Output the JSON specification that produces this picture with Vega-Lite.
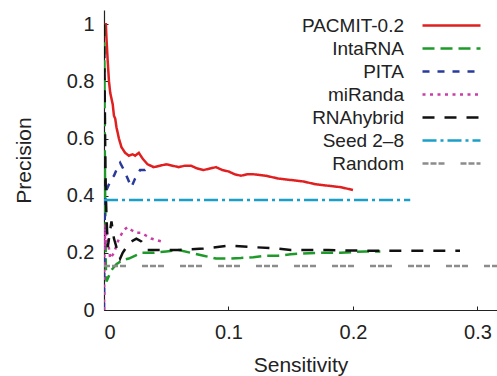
{
  "$schema": "https://vega.github.io/schema/vega-lite/v6.json",
  "autosize": {"type": "none"},
  "padding": {"left": 104, "top": 10, "right": 0, "bottom": 66},
  "width": 393,
  "height": 300,
  "background": "white",
  "config": {
    "view": {"stroke": null},
    "font": "Liberation Sans",
    "axis": {
      "grid": false,
      "domainColor": "#222",
      "domainWidth": 1.2,
      "tickColor": "#222",
      "tickSize": -4,
      "labelFont": "Liberation Sans",
      "labelFontSize": 20,
      "labelColor": "#222",
      "titleFont": "Liberation Sans",
      "titleFontSize": 21,
      "titleFontWeight": "normal",
      "titleColor": "#222"
    },
    "legend": {
      "orient": "none",
      "legendX": 299,
      "legendY": 6,
      "padding": 0,
      "rowPadding": 3,
      "labelFont": "Liberation Sans",
      "labelFontSize": 19,
      "labelColor": "#222",
      "labelAlign": "right",
      "labelOffset": -18,
      "labelLimit": 0,
      "symbolType": "M2,0H13.6",
      "symbolSize": 100,
      "symbolStrokeWidth": 2.5
    }
  },
  "data": {
    "values": [
      {"method": "PACMIT-0.2", "s": 0.0005, "p": 1.0},
      {"method": "PACMIT-0.2", "s": 0.0015, "p": 1.0},
      {"method": "PACMIT-0.2", "s": 0.002, "p": 0.95},
      {"method": "PACMIT-0.2", "s": 0.003, "p": 0.87},
      {"method": "PACMIT-0.2", "s": 0.004, "p": 0.80},
      {"method": "PACMIT-0.2", "s": 0.005, "p": 0.76},
      {"method": "PACMIT-0.2", "s": 0.006, "p": 0.74},
      {"method": "PACMIT-0.2", "s": 0.007, "p": 0.72},
      {"method": "PACMIT-0.2", "s": 0.008, "p": 0.68},
      {"method": "PACMIT-0.2", "s": 0.009, "p": 0.67},
      {"method": "PACMIT-0.2", "s": 0.010, "p": 0.64},
      {"method": "PACMIT-0.2", "s": 0.012, "p": 0.60},
      {"method": "PACMIT-0.2", "s": 0.014, "p": 0.57},
      {"method": "PACMIT-0.2", "s": 0.017, "p": 0.55},
      {"method": "PACMIT-0.2", "s": 0.020, "p": 0.54},
      {"method": "PACMIT-0.2", "s": 0.023, "p": 0.545},
      {"method": "PACMIT-0.2", "s": 0.025, "p": 0.54},
      {"method": "PACMIT-0.2", "s": 0.028, "p": 0.55},
      {"method": "PACMIT-0.2", "s": 0.031, "p": 0.53},
      {"method": "PACMIT-0.2", "s": 0.035, "p": 0.51},
      {"method": "PACMIT-0.2", "s": 0.040, "p": 0.50},
      {"method": "PACMIT-0.2", "s": 0.045, "p": 0.505},
      {"method": "PACMIT-0.2", "s": 0.050, "p": 0.51},
      {"method": "PACMIT-0.2", "s": 0.055, "p": 0.505},
      {"method": "PACMIT-0.2", "s": 0.060, "p": 0.50},
      {"method": "PACMIT-0.2", "s": 0.065, "p": 0.505},
      {"method": "PACMIT-0.2", "s": 0.070, "p": 0.505},
      {"method": "PACMIT-0.2", "s": 0.075, "p": 0.495},
      {"method": "PACMIT-0.2", "s": 0.080, "p": 0.49},
      {"method": "PACMIT-0.2", "s": 0.085, "p": 0.495},
      {"method": "PACMIT-0.2", "s": 0.090, "p": 0.50},
      {"method": "PACMIT-0.2", "s": 0.095, "p": 0.49},
      {"method": "PACMIT-0.2", "s": 0.100, "p": 0.485},
      {"method": "PACMIT-0.2", "s": 0.105, "p": 0.475},
      {"method": "PACMIT-0.2", "s": 0.110, "p": 0.47},
      {"method": "PACMIT-0.2", "s": 0.115, "p": 0.475},
      {"method": "PACMIT-0.2", "s": 0.120, "p": 0.475},
      {"method": "PACMIT-0.2", "s": 0.130, "p": 0.47},
      {"method": "PACMIT-0.2", "s": 0.140, "p": 0.46},
      {"method": "PACMIT-0.2", "s": 0.150, "p": 0.455},
      {"method": "PACMIT-0.2", "s": 0.160, "p": 0.45},
      {"method": "PACMIT-0.2", "s": 0.170, "p": 0.44},
      {"method": "PACMIT-0.2", "s": 0.180, "p": 0.435},
      {"method": "PACMIT-0.2", "s": 0.190, "p": 0.43},
      {"method": "PACMIT-0.2", "s": 0.200, "p": 0.42},

      {"method": "IntaRNA", "s": 0.0, "p": 1.0},
      {"method": "IntaRNA", "s": 0.0003, "p": 0.9},
      {"method": "IntaRNA", "s": 0.0006, "p": 0.6},
      {"method": "IntaRNA", "s": 0.001, "p": 0.35},
      {"method": "IntaRNA", "s": 0.0015, "p": 0.15},
      {"method": "IntaRNA", "s": 0.002, "p": 0.10},
      {"method": "IntaRNA", "s": 0.004, "p": 0.12},
      {"method": "IntaRNA", "s": 0.006, "p": 0.14},
      {"method": "IntaRNA", "s": 0.010, "p": 0.16},
      {"method": "IntaRNA", "s": 0.015, "p": 0.175},
      {"method": "IntaRNA", "s": 0.020, "p": 0.18},
      {"method": "IntaRNA", "s": 0.030, "p": 0.20},
      {"method": "IntaRNA", "s": 0.040, "p": 0.20},
      {"method": "IntaRNA", "s": 0.050, "p": 0.205},
      {"method": "IntaRNA", "s": 0.060, "p": 0.21},
      {"method": "IntaRNA", "s": 0.070, "p": 0.20},
      {"method": "IntaRNA", "s": 0.080, "p": 0.19},
      {"method": "IntaRNA", "s": 0.090, "p": 0.18},
      {"method": "IntaRNA", "s": 0.100, "p": 0.18},
      {"method": "IntaRNA", "s": 0.110, "p": 0.182},
      {"method": "IntaRNA", "s": 0.120, "p": 0.185},
      {"method": "IntaRNA", "s": 0.130, "p": 0.19},
      {"method": "IntaRNA", "s": 0.140, "p": 0.19},
      {"method": "IntaRNA", "s": 0.150, "p": 0.195},
      {"method": "IntaRNA", "s": 0.160, "p": 0.198},
      {"method": "IntaRNA", "s": 0.170, "p": 0.20},
      {"method": "IntaRNA", "s": 0.180, "p": 0.20},
      {"method": "IntaRNA", "s": 0.190, "p": 0.20},
      {"method": "IntaRNA", "s": 0.200, "p": 0.203},
      {"method": "IntaRNA", "s": 0.210, "p": 0.205},
      {"method": "IntaRNA", "s": 0.222, "p": 0.205},

      {"method": "PITA", "s": 0.0, "p": 0.0},
      {"method": "PITA", "s": 0.0005, "p": 0.3},
      {"method": "PITA", "s": 0.001, "p": 0.38},
      {"method": "PITA", "s": 0.002, "p": 0.42},
      {"method": "PITA", "s": 0.004, "p": 0.44},
      {"method": "PITA", "s": 0.006, "p": 0.46},
      {"method": "PITA", "s": 0.008, "p": 0.47},
      {"method": "PITA", "s": 0.010, "p": 0.49},
      {"method": "PITA", "s": 0.013, "p": 0.515},
      {"method": "PITA", "s": 0.016, "p": 0.49},
      {"method": "PITA", "s": 0.019, "p": 0.46},
      {"method": "PITA", "s": 0.022, "p": 0.43},
      {"method": "PITA", "s": 0.025, "p": 0.46},
      {"method": "PITA", "s": 0.029, "p": 0.49},
      {"method": "PITA", "s": 0.033, "p": 0.49},
      {"method": "PITA", "s": 0.036, "p": 0.50},
      {"method": "PITA", "s": 0.039, "p": 0.50},

      {"method": "miRanda", "s": 0.0, "p": 0.0},
      {"method": "miRanda", "s": 0.0005, "p": 0.3},
      {"method": "miRanda", "s": 0.001, "p": 0.22},
      {"method": "miRanda", "s": 0.002, "p": 0.28},
      {"method": "miRanda", "s": 0.003, "p": 0.25},
      {"method": "miRanda", "s": 0.005, "p": 0.18},
      {"method": "miRanda", "s": 0.008, "p": 0.20},
      {"method": "miRanda", "s": 0.012, "p": 0.25},
      {"method": "miRanda", "s": 0.016, "p": 0.28},
      {"method": "miRanda", "s": 0.019, "p": 0.29},
      {"method": "miRanda", "s": 0.022, "p": 0.28},
      {"method": "miRanda", "s": 0.026, "p": 0.27},
      {"method": "miRanda", "s": 0.030, "p": 0.27},
      {"method": "miRanda", "s": 0.034, "p": 0.26},
      {"method": "miRanda", "s": 0.038, "p": 0.25},
      {"method": "miRanda", "s": 0.042, "p": 0.245},
      {"method": "miRanda", "s": 0.046, "p": 0.24},
      {"method": "miRanda", "s": 0.049, "p": 0.235},

      {"method": "RNAhybrid", "s": 0.0, "p": 1.0},
      {"method": "RNAhybrid", "s": 0.0005, "p": 0.8},
      {"method": "RNAhybrid", "s": 0.001, "p": 0.55},
      {"method": "RNAhybrid", "s": 0.0015, "p": 0.4},
      {"method": "RNAhybrid", "s": 0.002, "p": 0.33},
      {"method": "RNAhybrid", "s": 0.003, "p": 0.22},
      {"method": "RNAhybrid", "s": 0.004, "p": 0.25},
      {"method": "RNAhybrid", "s": 0.006, "p": 0.31},
      {"method": "RNAhybrid", "s": 0.008, "p": 0.25},
      {"method": "RNAhybrid", "s": 0.010, "p": 0.22},
      {"method": "RNAhybrid", "s": 0.013, "p": 0.18},
      {"method": "RNAhybrid", "s": 0.015, "p": 0.20},
      {"method": "RNAhybrid", "s": 0.018, "p": 0.22},
      {"method": "RNAhybrid", "s": 0.022, "p": 0.24},
      {"method": "RNAhybrid", "s": 0.026, "p": 0.25},
      {"method": "RNAhybrid", "s": 0.030, "p": 0.24},
      {"method": "RNAhybrid", "s": 0.035, "p": 0.21},
      {"method": "RNAhybrid", "s": 0.045, "p": 0.21},
      {"method": "RNAhybrid", "s": 0.060, "p": 0.21},
      {"method": "RNAhybrid", "s": 0.080, "p": 0.215},
      {"method": "RNAhybrid", "s": 0.100, "p": 0.225},
      {"method": "RNAhybrid", "s": 0.120, "p": 0.22},
      {"method": "RNAhybrid", "s": 0.140, "p": 0.215},
      {"method": "RNAhybrid", "s": 0.150, "p": 0.21},
      {"method": "RNAhybrid", "s": 0.180, "p": 0.21},
      {"method": "RNAhybrid", "s": 0.200, "p": 0.208},
      {"method": "RNAhybrid", "s": 0.220, "p": 0.207},
      {"method": "RNAhybrid", "s": 0.250, "p": 0.207},
      {"method": "RNAhybrid", "s": 0.286, "p": 0.207},

      {"method": "Seed 2\u20138", "s": 0.0, "p": 0.385},
      {"method": "Seed 2\u20138", "s": 0.246, "p": 0.385},

      {"method": "Random", "s": 0.0, "p": 0.154},
      {"method": "Random", "s": 0.316, "p": 0.154}
    ]
  },
  "mark": {"type": "line", "clip": true},
  "encoding": {
    "x": {
      "field": "s", "type": "quantitative", "title": "Sensitivity",
      "scale": {"domain": [0, 0.3157], "nice": false},
      "axis": {"values": [0, 0.1, 0.2, 0.3], "format": "~g", "labelPadding": 16, "titlePadding": 12}
    },
    "y": {
      "field": "p", "type": "quantitative", "title": "Precision",
      "scale": {"domain": [0, 1.05], "nice": false},
      "axis": {"values": [0, 0.2, 0.4, 0.6, 0.8, 1], "format": "~g", "labelPadding": 14, "titlePadding": 32}
    },
    "color": {
      "field": "method", "type": "nominal", "title": null,
      "scale": {
        "domain": ["PACMIT-0.2", "IntaRNA", "PITA", "miRanda", "RNAhybrid", "Seed 2\u20138", "Random"],
        "range": ["#e02020", "#1e9a2a", "#2a3a9a", "#c83ea6", "#111111", "#1aa0c8", "#8c8c8c"]
      }
    },
    "strokeDash": {
      "field": "method", "type": "nominal", "title": null,
      "scale": {
        "domain": ["PACMIT-0.2", "IntaRNA", "PITA", "miRanda", "RNAhybrid", "Seed 2\u20138", "Random"],
        "range": [[1, 0], [12, 6], [7, 8], [3, 4.5], [12, 10], [14, 4, 3, 4], [6, 2, 6, 2, 6, 16]]
      }
    },
    "strokeWidth": {
      "field": "method", "type": "nominal", "title": null,
      "scale": {
        "domain": ["PACMIT-0.2", "IntaRNA", "PITA", "miRanda", "RNAhybrid", "Seed 2\u20138", "Random"],
        "range": [2.5, 2.5, 2.5, 2.5, 2.5, 2.5, 1.3]
      }
    }
  }
}
